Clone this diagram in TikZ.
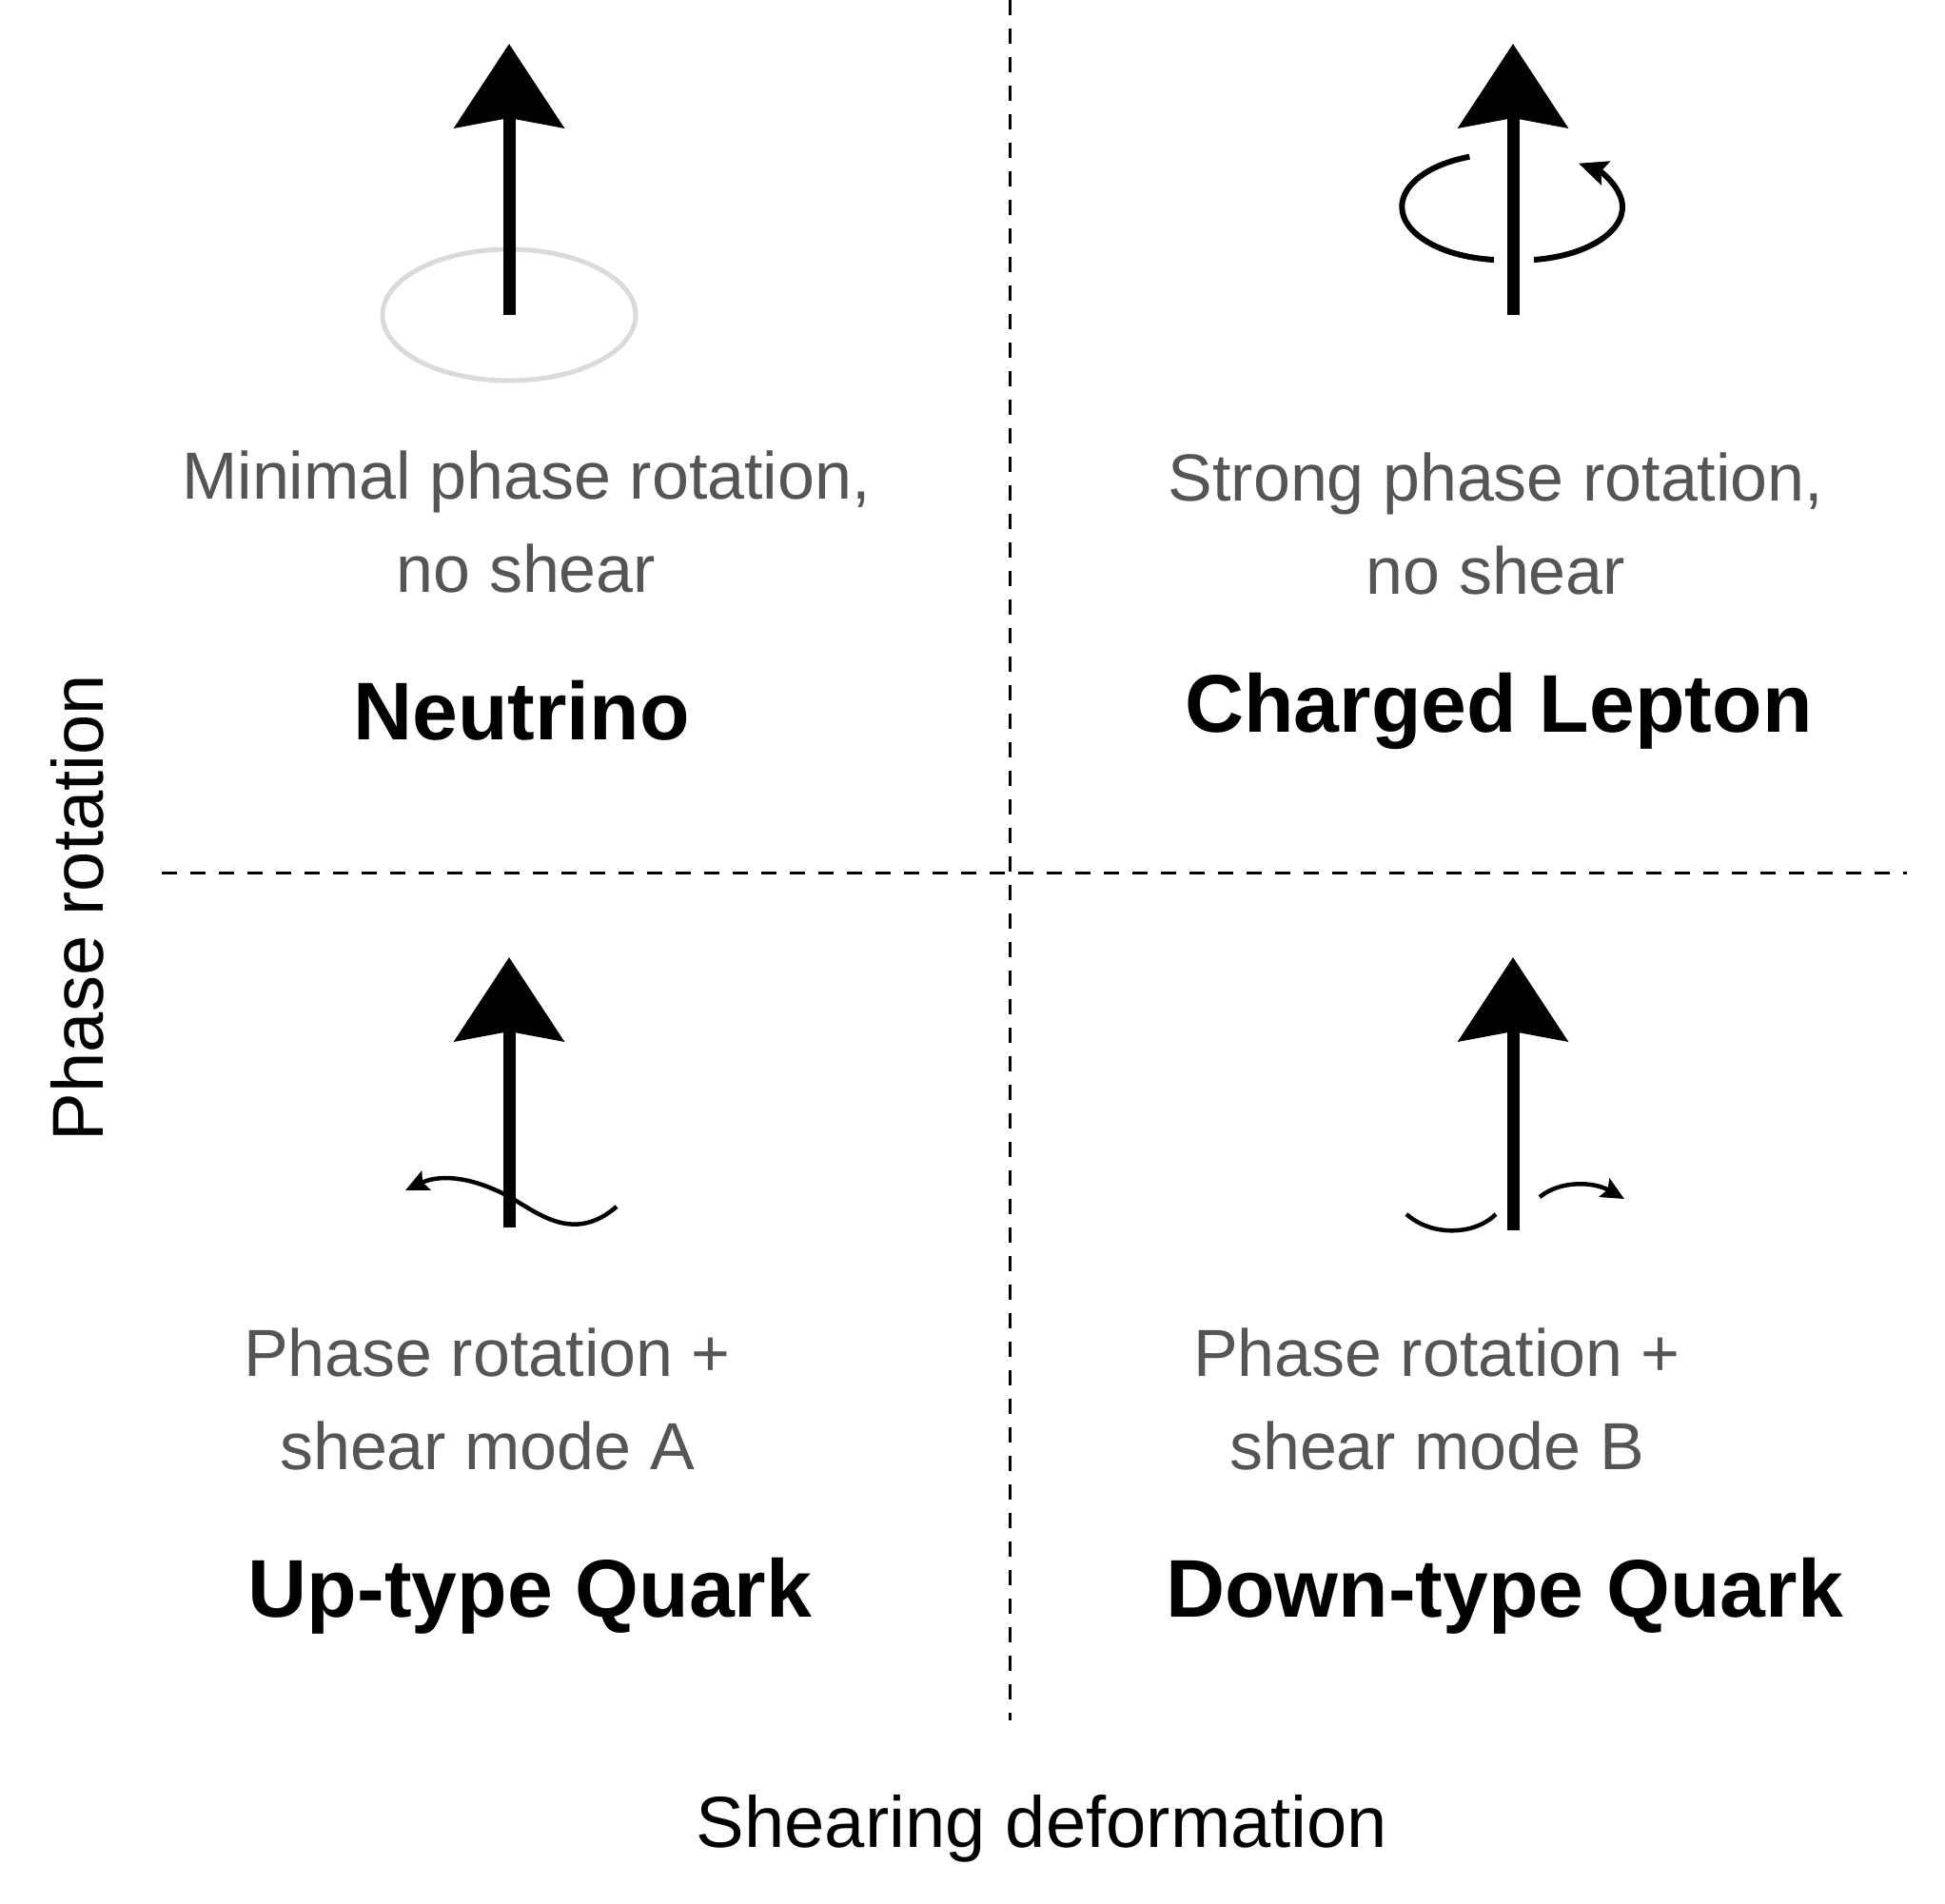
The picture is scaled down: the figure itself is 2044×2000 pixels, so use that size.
\documentclass[tikz,border=0pt]{standalone}
\usepackage{fontspec}
\setmainfont{Liberation Sans}
\usetikzlibrary{arrows.meta}
\definecolor{txtgray}{HTML}{555555}
\definecolor{ringgray}{HTML}{DADADA}
\begin{document}
\begin{tikzpicture}[x=1pt,y=-1pt,
  divider/.style={line width=3pt,dash pattern=on 16pt off 14pt},
  big/.style={line width=13pt,-{Stealth[length=88pt,width=114pt,inset=10pt]}},
  small/.style={line width=4.5pt,-{Stealth[length=24pt,width=22pt,inset=4pt]}},
  desc/.style={text=txtgray,align=center,font=\fontsize{70}{98}\selectfont},
  title/.style={font=\fontsize{86}{100}\selectfont\bfseries},
  axis/.style={font=\fontsize{76}{90}\selectfont}]
\useasboundingbox (0,0) rectangle (2044,2000);
% axes
\coordinate (vt) at (1061,0); \coordinate (vb) at (1061,1808);
\coordinate (hl) at (170,917); \coordinate (hr) at (2004,917);
\draw[divider] (vt) -- (vb);
\draw[divider] (hl) -- (hr);
% neutrino
\coordinate (n0) at (535,331); \coordinate (n1) at (535,46);
\draw[ringgray,line width=5pt] (n0) ellipse [x radius=133,y radius=69];
\draw[big] (n0) -- (n1);
\node[desc] (nd) at (553,548) {Minimal phase rotation,\\no shear};
\node[title] (nt) at (548,747) {Neutrino};
% charged lepton
\coordinate (c0) at (1590,331); \coordinate (c1) at (1590,46);
\draw[big] (c0) -- (c1);
\draw[line width=6pt] (1570,273) arc[start angle=96,end angle=250,x radius=108,y radius=56];
\draw[line width=6pt,-{Stealth[length=30pt,width=26pt,inset=5pt]}] (1612,273) arc[start angle=82,end angle=-55,x radius=108,y radius=56];
\node[desc] (cd) at (1572,550) {Strong phase rotation,\\no shear};
\node[title] (ct) at (1575,747) {Charged Lepton};
% up quark
\coordinate (u0) at (535,1290); \coordinate (u1) at (535,1006);
\draw[big] (u0) -- (u1);
\coordinate (uw0) at (648,1268); \coordinate (uw1) at (426,1251);
\draw[small] (uw0) .. controls (600,1310) and (560,1270) .. (530,1255) .. controls (490,1235) and (460,1235) .. (uw1);
\node[desc] (ud) at (512,1470) {Phase rotation +\\shear mode A};
\node[title] (ut) at (557,1677) {Up-type Quark};
% down quark
\coordinate (d0) at (1590,1293); \coordinate (d1) at (1590,1006);
\draw[big] (d0) -- (d1);
\coordinate (dl0) at (1478,1276); \coordinate (dl1) at (1572,1276);
\draw[line width=4.5pt] (dl0) .. controls (1505,1300) and (1550,1298) .. (dl1);
\coordinate (dr0) at (1618,1258); \coordinate (dr1) at (1707,1260);
\draw[small] (dr0) .. controls (1640,1240) and (1675,1242) .. (dr1);
\node[desc] (dd) at (1510,1470) {Phase rotation +\\shear mode B};
\node[title] (dt) at (1581,1677) {Down-type Quark};
% axis labels
\node[axis] (xl) at (1095,1922) {Shearing deformation};
\node[axis,rotate=90] (yl) at (81,954) {Phase rotation};
\end{tikzpicture}
\end{document}
